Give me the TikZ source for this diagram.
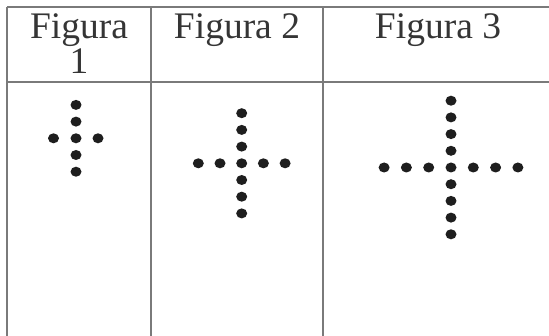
\documentclass[tikz,border=0pt]{standalone}
\usepackage{fontspec}
\setmainfont{Liberation Serif}
\definecolor{rule}{HTML}{7A7A7A}
\definecolor{ink}{HTML}{1E1E1E}
\begin{document}
\begin{tikzpicture}[x=1pt,y=-1pt,
  gridline/.style={draw=rule,line width=1.6pt},
  head/.style={font=\fontsize{37.5}{35}\selectfont,text=ink!90,inner sep=0pt,anchor=base,align=center},
  dot/.style={fill=ink}]
\useasboundingbox (0,0) rectangle (549,336);
% table lines
\draw[gridline] (7,7) -- (560,7);
\draw[gridline] (7,82) -- (560,82);
\draw[gridline] (7,7) -- (7,345);
\draw[gridline] (151,7) -- (151,345);
\draw[gridline] (323,7) -- (323,345);
% headers
\node[head] (h1) at (79,74) {Figura\\1};
\node[head] (h2) at (237,38.5) {Figura 2};
\node[head] (h3) at (438,38.5) {Figura 3};
% Figura 1
\foreach \k in {-2,...,2} \fill[dot] (76,138.3+16.7*\k) ellipse (5.5 and 5);
\fill[dot] (53.5,138.3) ellipse (5.5 and 5);
\fill[dot] (98,138.3) ellipse (5.5 and 5);
% Figura 2
\foreach \k in {-3,...,3} \fill[dot] (241.7,163.3+16.7*\k) ellipse (5.5 and 5);
\foreach \k in {-2,-1,1,2} \fill[dot] (241.7+21.7*\k,163.3) ellipse (5.5 and 5);
% Figura 3
\foreach \k in {-4,...,4} \fill[dot] (451,167.5+16.7*\k) ellipse (5.5 and 5);
\foreach \k in {-3,-2,-1,1,2,3} \fill[dot] (451+22.3*\k,167.5) ellipse (5.5 and 5);
\end{tikzpicture}
\end{document}
